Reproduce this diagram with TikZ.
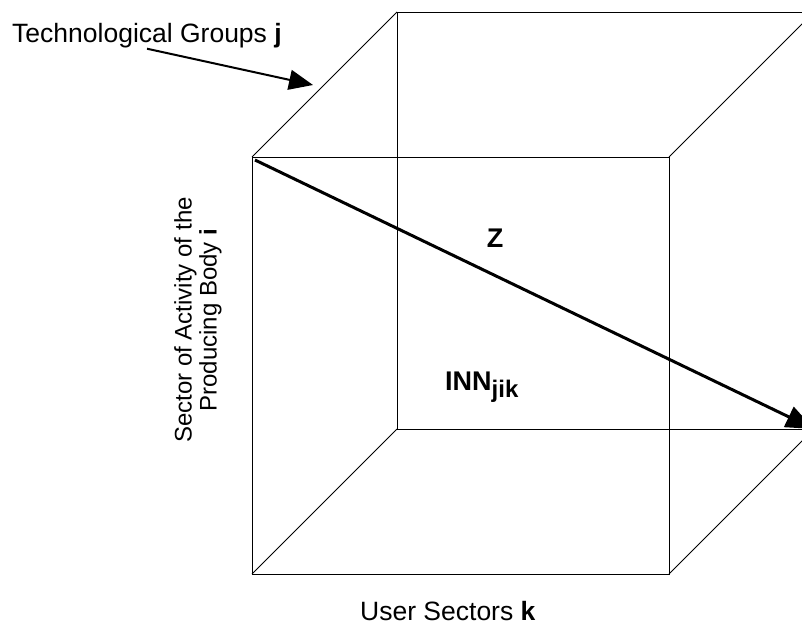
\documentclass[tikz,border=0pt]{standalone}
\usepackage{fontspec}
\setmainfont{Liberation Sans}
\usetikzlibrary{calc,math,arrows.meta}

\begin{document}
\begin{tikzpicture}[x=1pt,y=-1pt]

    \tikzmath{\depth = 145;}
    % page frame; the back face runs off the right edge
    \useasboundingbox (0,0) rectangle (802,624);
    \clip (0,0) rectangle (802,624);

    % corners of the front face and of the back face
    \coordinate (fa) at (252,157);
    \coordinate (fb) at (669,157);
    \coordinate (fc) at (669,574);
    \coordinate (fd) at (252,574);
    \coordinate (ba) at ($(fa)+(\depth,-\depth)$);
    \coordinate (bb) at ($(fb)+(\depth,-\depth)$);
    \coordinate (bc) at ($(fc)+(\depth,-\depth)$);
    \coordinate (bd) at ($(fd)+(\depth,-\depth)$);

    % draw the cube
    \draw[line width=0.9pt] (fa) -- (fb) -- (fc) -- (fd) -- cycle;
    \draw[line width=0.9pt] (ba) -- (bb) -- (bc) -- (bd) -- cycle;
    \draw[line width=0.9pt] (fa) -- (ba) (fb) -- (bb) (fc) -- (bc) (fd) -- (bd);

    % the diagonal Z
    \draw[line width=3pt, -{Triangle[length=28pt,width=22pt]}] ($(fa)+(3,3)$) -- (bc);
    \node[font=\bfseries\fontsize{27}{30}\selectfont] (z) at (495,238) {Z};
    \node[anchor=base west, inner sep=0pt, font=\bfseries\fontsize{27}{30}\selectfont] (inn) at (445,390)
        {INN\raisebox{-7pt}{\fontsize{24}{27}\selectfont jik}};

    % add labels
    \node[anchor=base west, inner sep=0pt, font=\fontsize{26.5}{30}\selectfont] (tech) at (12,42) {Technological Groups \textbf{j}};
    \coordinate (techtip) at (313,85);
    \draw[line width=2pt, -{Triangle[length=24pt,width=20pt]}] ($(tech.south)+(0,1)$) -- (techtip);

    \node[rotate=90, align=center, font=\fontsize{24}{25}\selectfont] (sector) at (198,320)
        {Sector of Activity of the\\Producing Body \textbf{i}};

    \node[anchor=base west, inner sep=0pt, font=\fontsize{26.5}{30}\selectfont] (user) at (360,620) {User Sectors \textbf{k}};

\end{tikzpicture}
\end{document}
